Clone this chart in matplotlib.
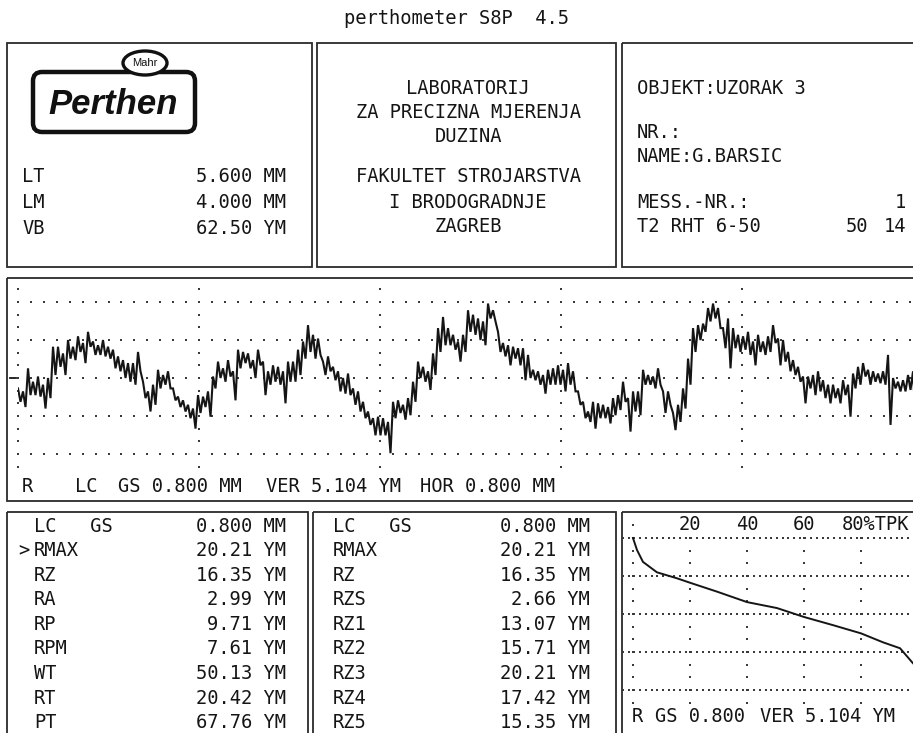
import numpy as np
import matplotlib
matplotlib.use("Agg")
import matplotlib.pyplot as plt
from matplotlib.patches import Rectangle, FancyBboxPatch, Ellipse

plt.rcParams['font.family'] = ['DejaVu Sans Mono']

# ---------------- data ----------------
TITLE = "perthometer S8P  4.5"

setup_labels = ["LT", "LM", "VB"]
setup_values = ["5.600 MM", "4.000 MM", "62.50 YM"]

lab_lines = ["LABORATORIJ", "ZA PRECIZNA MJERENJA", "DUZINA",
             "FAKULTET STROJARSTVA", "I BRODOGRADNJE", "ZAGREB"]

obj_lines = ["OBJEKT:UZORAK 3", "NR.:", "NAME:G.BARSIC", "MESS.-NR.:", "T2 RHT 6-50"]
mess_nr = "1"
probe_nums = ["50", "14"]

res1_labels = ["LC   GS", "RMAX", "RZ", "RA", "RP", "RPM", "WT", "RT", "PT"]
res1_values = ["0.800 MM", "20.21 YM", "16.35 YM", "2.99 YM", "9.71 YM",
               "7.61 YM", "50.13 YM", "20.42 YM", "67.76 YM"]
res2_labels = ["LC   GS", "RMAX", "RZ", "RZS", "RZ1", "RZ2", "RZ3", "RZ4", "RZ5"]
res2_values = ["0.800 MM", "20.21 YM", "16.35 YM", "2.66 YM", "13.07 YM",
               "15.71 YM", "20.21 YM", "17.42 YM", "15.35 YM"]

VER = 5.104   # um per division
HOR = 0.800   # mm per division
profile_caption = ["R", "LC", "GS 0.800 MM", "VER 5.104 YM", "HOR 0.800 MM"]

# roughness profile (um): local upper and lower excursions, one pair per sample step
profile_peaks = [
    -1.4, -1.8, 1.3, -0.5, 0.2, -0.9, 0.0, 4.2, 4.2, 3.3, 5.1, 4.2, 5.6, 4.7, 6.2, 4.9, 4.4, 5.1,
    4.2, 3.8, 2.9, 2.4, 2.0, 2.0, 3.5, -0.5, -1.8, -0.9, 1.1, 0.4, 0.9, -1.4, -2.5, -3.0, -3.6, -4.1,
    -2.3, -2.5, -1.8, 0.2, 2.2, 1.3, 2.4, 0.9, 3.8, 3.5, 3.3, 2.4, 3.8, 2.2, 0.9, 1.7, 1.5, 0.9,
    2.2, 2.2, 3.8, 4.9, 7.1, 5.8, 5.3, 2.2, 2.9, 1.5, 0.9, 0.0, 0.6, -1.4, -1.8, -3.2, -4.5, -5.4,
    -5.2, -5.4, -5.9, -3.2, -3.0, -3.6, -2.7, -0.5, 2.2, 1.5, 0.9, 3.3, 6.7, 8.2, 6.7, 5.8, 4.9, 5.8,
    9.1, 8.5, 8.0, 7.6, 10.0, 9.1, 6.2, 4.7, 4.4, 4.2, 4.0, 4.0, 3.1, 1.1, 0.9, 0.4, 1.1, 1.3,
    1.7, 1.1, 2.0, 0.9, -1.8, -3.2, -4.5, -3.2, -3.4, -3.6, -3.9, -2.7, -2.3, -0.5, -2.7, -1.8, -1.8, 1.1,
    0.4, 0.2, 1.3, -1.8, -1.8, -4.7, -3.6, -1.4, 2.6, 6.7, 7.1, 7.3, 9.4, 10.0, 9.4, 6.7, 8.0, 6.7,
    5.8, 5.6, 6.2, 4.9, 5.8, 4.9, 5.6, 7.1, 5.3, 5.1, 3.5, 2.4, 1.5, 0.2, 0.2, 0.4, 0.9, -0.3,
    -0.9, -0.9, -1.4, -0.3, -0.9, 0.6, 1.5, 2.0, 1.1, 0.9, 0.6, 0.9, 3.1, 0.0, -0.5, -0.3, 0.4, 0.9,
]
profile_valleys = [
    -3.2, -3.9, -2.3, -2.3, -2.5, -4.1, -2.7, 0.4, 1.5, 0.4, 2.6, 2.4, 3.5, 2.0, 4.2, 3.1, 3.1, 2.9,
    2.6, 1.3, 0.9, 0.0, -0.5, -0.9, 0.9, -2.7, -4.5, -3.6, -1.4, -0.9, -1.4, -3.0, -3.9, -4.5, -5.4, -6.8,
    -4.7, -3.9, -5.2, -1.4, 0.0, -0.5, 0.2, -3.0, 1.3, 2.0, 1.3, 0.0, 1.7, -2.3, -0.9, -0.5, -0.9, -3.4,
    -0.5, -0.5, 0.4, 2.6, 3.5, 2.6, 3.1, 0.4, 0.9, -0.3, -1.8, -2.1, -2.3, -3.6, -4.5, -5.4, -6.3, -7.7,
    -7.7, -7.7, -10.1, -5.4, -4.7, -5.6, -5.0, -3.2, 0.0, -0.5, -1.6, 0.4, 3.5, 4.4, 4.4, 3.8, 2.2, 3.5,
    6.2, 5.8, 5.1, 4.4, 8.0, 7.6, 3.5, 2.9, 1.7, 2.6, 1.7, -0.3, 0.0, -0.3, -0.9, -2.1, -0.9, -0.9,
    -0.9, -1.8, -0.9, -1.8, -3.6, -5.4, -5.9, -6.8, -5.4, -5.4, -6.1, -5.0, -4.3, -3.2, -7.2, -4.5, -5.0, -0.9,
    -0.9, -1.4, -0.9, -4.7, -3.6, -7.0, -5.9, -4.1, -0.9, 3.5, 5.1, 6.2, 7.6, 8.0, 6.7, 4.0, 1.3, 4.0,
    3.5, 3.8, 3.1, 1.7, 3.5, 3.1, 3.5, 4.7, 1.7, 2.2, 0.9, 0.4, -0.5, -3.4, -1.4, -2.3, -1.8, -2.7,
    -3.4, -2.7, -3.4, -2.3, -5.2, -1.4, -0.9, 0.2, -0.9, -0.5, -0.7, -0.9, -6.3, -1.4, -1.8, -1.8, -1.6, -5.9,
]
SAMPLE_STEP_MM = 0.0221

# bearing-area (Abbott) curve
tp_pct = [0, 1.4, 3.5, 8.4, 15.4, 20, 29.5, 40, 50.5, 60, 70.2, 80, 87.7, 93.7, 98.2]
tp_level_um = [10.2, 8.6, 7.0, 5.6, 4.8, 4.2, 3.0, 1.6, 0.8, -0.4, -1.5, -2.6, -3.8, -4.6, -6.6]
tp_ticks = [20, 40, 60, 80]
bearing_caption = ["R", "GS 0.800", "VER 5.104 YM"]

# ---------------- layout ----------------
W, H = 913, 733
INK = '#151515'
GRID = '#3a3a3a'
FS = 13.5

fig = plt.figure(figsize=(W / 100, H / 100), dpi=100)
fig.patch.set_facecolor('white')
base = fig.add_axes([0, 0, 1, 1])
base.set_xlim(0, W)
base.set_ylim(H, 0)
base.axis('off')


def box(x0, y0, x1, y1):
    base.add_patch(Rectangle((x0, y0), x1 - x0, y1 - y0, fill=False,
                             ec='#2a2a2a', lw=1.3, zorder=2))


def txt(x, y, s, ha='left', size=FS, **kw):
    base.text(x, y, s, ha=ha, va='center', fontsize=size, color=INK, zorder=5, **kw)


def add_axes_px(x0, y0, x1, y1):
    return fig.add_axes([x0 / W, 1 - y1 / H, (x1 - x0) / W, (y1 - y0) / H])


txt(456, 19, TITLE, ha='center')

# top boxes
box(7, 43, 312, 267)
box(317, 43, 616, 267)
box(622, 43, 940, 267)

# logo
base.add_patch(FancyBboxPatch((33, 72), 162, 60, boxstyle="round,pad=0,rounding_size=9",
                              lw=3.2, ec='#111', fc='white', zorder=3))
base.add_patch(Ellipse((145, 63), 44, 24, lw=2.4, ec='#111', fc='white', zorder=4))
base.text(145, 63, "Mahr", ha='center', va='center', fontsize=8,
          family='Liberation Sans', color='#111', zorder=5)
base.text(113, 104, "Perthen", ha='center', va='center', fontsize=25,
          family='Liberation Sans', weight='bold', style='italic', color='#111', zorder=5)

for i, (l, v) in enumerate(zip(setup_labels, setup_values)):
    y = 177 + 25.5 * i
    txt(22, y, l)
    txt(286, y, v, ha='right')

for s, y in zip(lab_lines, [88, 113, 137, 177, 202, 227]):
    txt(468, y, s, ha='center')

for s, y in zip(obj_lines, [88, 133, 157, 203, 227]):
    txt(637, y, s)
txt(906, 203, mess_nr, ha='right')
txt(868, 227, probe_nums[0], ha='right')
txt(906, 227, probe_nums[1], ha='right')

# profile box
box(7, 278, 940, 501)
PX_PER_MM = 181 / HOR
PX_PER_UM = 38 / VER
X0, YC = 18, 378
axp = add_axes_px(X0, 283, 913, 475)
axp.set_xlim(0, (913 - X0) / PX_PER_MM)
axp.set_ylim(-(475 - YC) / PX_PER_UM, (YC - 283) / PX_PER_UM)
axp.axis('off')
axp.patch.set_alpha(0)

xmax = (913 - X0) / PX_PER_MM
hx = np.arange(0, xmax, HOR / 14)
for k in range(-2, 3):
    axp.scatter(hx, np.full_like(hx, k * VER), s=2.4, marker='s', color=GRID, lw=0, clip_on=False)
vy = np.arange(-7, 8) * VER / 3
for k in range(0, 5):
    axp.scatter(np.full_like(vy, k * HOR), vy, s=2.4, marker='s', color=GRID, lw=0, clip_on=False)
axp.plot([-0.035, -0.008], [0, 0], color=INK, lw=1.3, clip_on=False)

pk = np.asarray(profile_peaks)
vl = np.asarray(profile_valleys)
n = len(pk)
prof_y = np.empty(2 * n)
prof_y[0::2] = pk
prof_y[1::2] = vl
prof_x = np.arange(2 * n) * SAMPLE_STEP_MM / 2
axp.plot(prof_x, prof_y, color=INK, lw=1.5, solid_joinstyle='miter')

for s, x in zip(profile_caption, [22, 75, 118, 266, 420]):
    txt(x, 487, s)

# bottom boxes
box(7, 512, 308, 760)
box(313, 512, 616, 760)
box(622, 512, 940, 760)

for i, (l, v) in enumerate(zip(res1_labels, res1_values)):
    y = 526 + 24.6 * i
    txt(34, y, l)
    txt(286, y, v, ha='right')
txt(18, 526 + 24.6, ">")
for i, (l, v) in enumerate(zip(res2_labels, res2_values)):
    y = 526 + 24.6 * i
    txt(333, y, l)
    txt(590, y, v, ha='right')

# bearing curve
PX_PER_PCT = 57 / 20
BX0, BYC = 633, 614
axb = add_axes_px(622, 515, 913, 708)
axb.set_xlim((622 - BX0) / PX_PER_PCT, (913 - BX0) / PX_PER_PCT)
axb.set_ylim(-(708 - BYC) / PX_PER_UM, (BYC - 515) / PX_PER_UM)
axb.axis('off')
axb.patch.set_alpha(0)
bx = np.arange(-3.5, 99, 2.0)
for k in range(-2, 3):
    axb.scatter(bx, np.full_like(bx, k * VER), s=1.8, marker='s', color=GRID, lw=0)
col0 = np.arange(-7, 8) * VER / 3
axb.scatter(np.zeros_like(col0), col0, s=2.4, marker='s', color=GRID, lw=0)
coln = np.arange(-7, 7) * VER / 3
for t in tp_ticks:
    axb.scatter(np.full_like(coln, t), coln, s=2.4, marker='s', color=GRID, lw=0)
axb.plot(tp_pct, tp_level_um, color=INK, lw=1.4)
for t in tp_ticks[:-1]:
    axb.text(t, 7 * VER / 3 + 0.1, str(t), ha='center', va='center', fontsize=FS, color=INK)
axb.text(tp_ticks[-1] - 6.8, 7 * VER / 3 + 0.1, f"{tp_ticks[-1]}%TPK", ha='left',
         va='center', fontsize=FS, color=INK)

for s, x in zip(bearing_caption, [632, 655, 760]):
    txt(x, 717, s)

fig.savefig("out.png", dpi=100, facecolor='white')
